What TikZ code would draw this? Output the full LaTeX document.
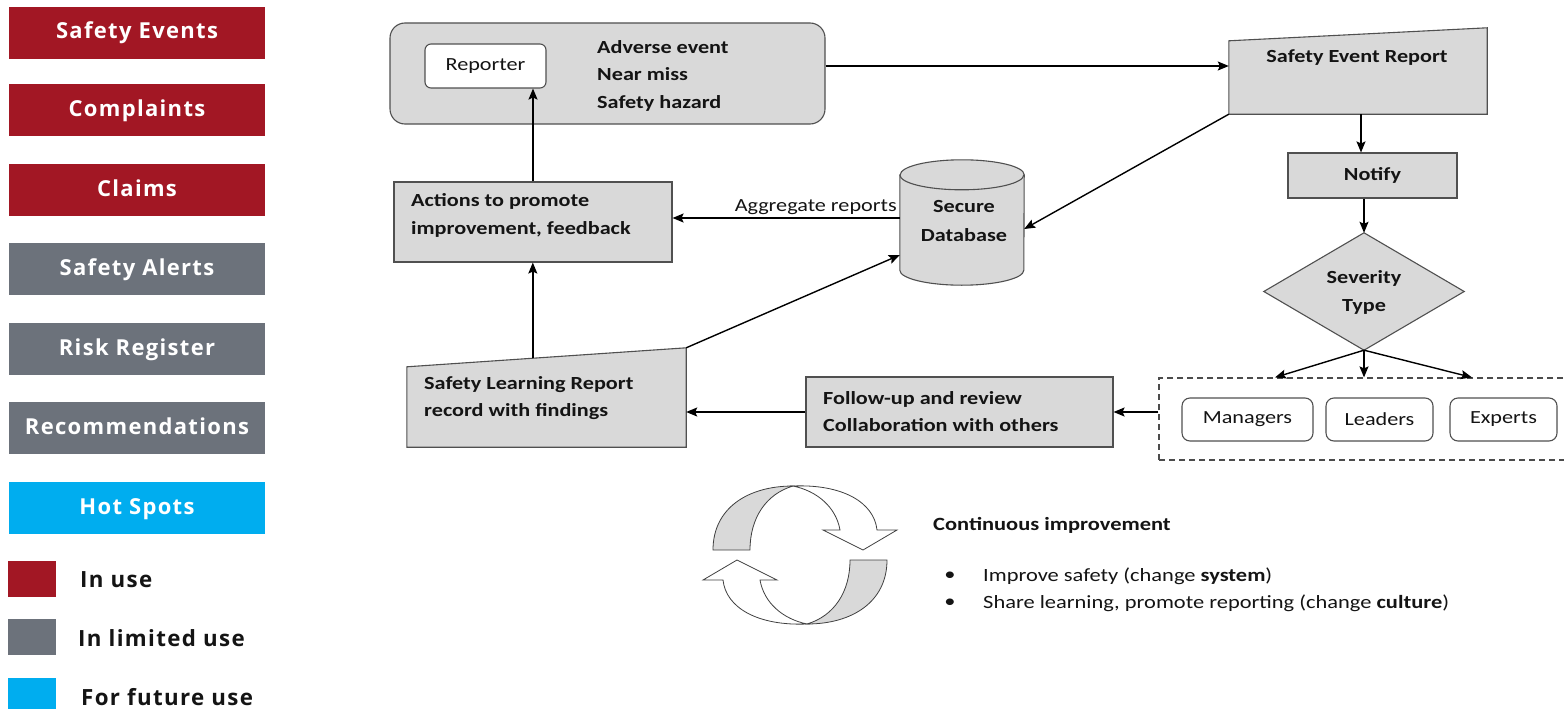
\documentclass[tikz,border=0pt]{standalone}
\usepackage{fontspec}
\setmainfont{Carlito}[FakeStretch=1.2]
\newfontfamily\legendfont{Open Sans}[LetterSpace=6]
\usetikzlibrary{arrows.meta,calc}
\definecolor{useRed}{HTML}{A21724}
\definecolor{limGray}{HTML}{6C727B}
\definecolor{futCyan}{HTML}{00ADEF}
\definecolor{boxFill}{HTML}{D9D9D9}
\definecolor{boxLine}{HTML}{505050}
\definecolor{ink}{HTML}{141414}

\tikzset{
  legbox/.style={minimum width=256, minimum height=52, inner sep=0, text=white,
    text height=1.2em, text depth=0em,
    font=\legendfont\bfseries\fontsize{22}{26}\selectfont},
  keysq/.style={minimum width=48, minimum height=36, inner sep=0},
  keytext/.style={anchor=west, inner sep=0, text=ink,
    font=\legendfont\bfseries\fontsize{22.3}{26}\selectfont},
  panel/.style={draw=boxLine, fill=boxFill, line width=1.1pt},
  lbl/.style={inner sep=0, align=left, text=ink,
    font=\bfseries\fontsize{18.5}{27.5}\selectfont},
  plain/.style={inner sep=0, text=ink, font=\fontsize{18.7}{22}\selectfont},
  person/.style={draw=boxLine, fill=white, rounded corners=8pt, line width=1.1pt,
    minimum height=43, inner sep=0, text=ink, font=\fontsize{18.5}{22}\selectfont},
  arr/.style={-{Stealth[length=11pt,width=9pt,inset=2pt]}, line width=1.4pt, draw=black},
  cyc/.style={draw=black!75, line width=0.8pt},
}

\begin{document}
\begin{tikzpicture}[x=1pt,y=-1pt]
\useasboundingbox (0,0) rectangle (1564,709);

% legend: data sources
\node[legbox, fill=useRed]  (src1) at (137,33)  {Safety Events};
\node[legbox, fill=useRed]  (src2) at (137,110) {Complaints};
\node[legbox, fill=useRed]  (src3) at (137,190) {Claims};
\node[legbox, fill=limGray] (src4) at (137,269) {Safety Alerts};
\node[legbox, fill=limGray] (src5) at (137,349) {Risk Register};
\node[legbox, fill=limGray] (src6) at (137,428) {Recommendations};
\node[legbox, fill=futCyan] (src7) at (137,508) {Hot Spots};

% legend: key
\node[keysq, fill=useRed]  (key1) at (32,579) {};
\node[keysq, fill=limGray] (key2) at (32,637) {};
\node[keysq, fill=futCyan] (key3) at (32,696) {};
\node[keytext] (keyt1) at (80,580) {In use};
\node[keytext] (keyt2) at (78,638) {In limited use};
\node[keytext] (keyt3) at (81,697) {For future use};

% event capture
\node[panel, rounded corners=15pt, minimum width=435, minimum height=101] (evt) at (607.5,73.5) {};
\node[draw=boxLine, fill=white, rounded corners=6pt, line width=1.1pt,
      minimum width=121, minimum height=44, inner sep=0, text=ink,
      font=\fontsize{18.5}{22}\selectfont] (rep) at (485.5,66) {Reporter};
\node[lbl, anchor=west] (kinds) at (597,75.5) {Adverse event\\Near miss\\Safety hazard};

% safety event report
\node[minimum width=258, minimum height=86, inner sep=0] (ser) at (1358,71) {};
\draw[panel] (ser.south west) -- ([yshift=-13pt]ser.north west) -- (ser.north east) -- (ser.south east) -- cycle;
\node[lbl] (sertxt) at (1357,58) {Safety Event Report};

% notify
\node[panel, minimum width=169, minimum height=45, lbl] (ntf) at (1372.5,175.5) {Notify};

% severity decision
\node[minimum width=200, minimum height=117, inner sep=0] (sev) at (1364,291.5) {};
\draw[panel] (sev.north) -- (sev.east) -- (sev.south) -- (sev.west) -- cycle;
\node[lbl, align=center, font=\bfseries\fontsize{18.5}{28}\selectfont] (sevtxt) at (1364,292) {Severity\\Type};

% people involved
\node[draw=black!70, dashed, dash pattern=on 6pt off 4pt, line width=1.2pt,
      minimum width=411, minimum height=82, inner sep=0] (grp) at (1364.5,419) {};
\node[person, minimum width=131] (mgr) at (1247.5,419.5) {Managers};
\node[person, minimum width=107] (ldr) at (1379.5,419.5) {Leaders};
\node[person, minimum width=107] (exp) at (1503.5,419.5) {Experts};

% follow-up
\node[panel, minimum width=307, minimum height=70] (fol) at (959.5,412) {};
\node[lbl, anchor=west] (foltxt) at (823,411.5) {Follow-up and review\\Collaboration with others};

% safety learning report
\node[minimum width=279, minimum height=99, inner sep=0] (slr) at (546.5,397.5) {};
\coordinate (slrTL) at ([yshift=-19pt]slr.north west);
\draw[panel] (slr.south west) -- (slrTL) -- (slr.north east) -- (slr.south east) -- cycle;
\node[lbl, anchor=west] (slrtxt) at (424,398) {Safety Learning Report\\record with findings};

% actions
\node[panel, minimum width=278, minimum height=80] (act) at (533,222) {};
\node[lbl, anchor=west] (acttxt) at (411,215.5) {Actions to promote\\improvement, feedback};

% secure database
\node[minimum width=124, minimum height=125, inner sep=0] (db) at (962,222.5) {};
\draw[panel] ([yshift=-15pt]db.north west) -- ([yshift=15pt]db.south west)
  arc[start angle=180, end angle=360, x radius=62pt, y radius=15pt]
  -- ([yshift=-15pt]db.north east)
  arc[start angle=0, end angle=180, x radius=62pt, y radius=15pt] -- cycle;
\draw[draw=boxLine, line width=1.1pt] ([yshift=-15pt]db.north west)
  arc[start angle=180, end angle=360, x radius=62pt, y radius=15pt];
\node[lbl, align=center, font=\bfseries\fontsize{18.5}{29}\selectfont] (dbtxt) at (964,221.5) {Secure\\Database};

% connectors
\draw[arr] ([yshift=7.5pt]evt.east) -- ([yshift=7.5pt]evt.east -| ser.west);
\draw[arr] ([xshift=3pt]ser.south) -- ([xshift=3pt]ser.south |- ntf.north);
\draw[arr] (sev.north |- ntf.south) -- (sev.north);
\draw[arr] (sev.south) -- ([xshift=-89.5pt]grp.north);
\draw[arr] (sev.south) -- (sev.south |- grp.north);
\draw[arr] (sev.south) -- ([xshift=107.5pt]grp.north);
\draw[arr] (grp.west |- fol.east) -- (fol.east);
\draw[arr] (fol.west) -- (fol.west -| slr.east);
\coordinate (slrTop) at ($(slrTL)!0.451!(slr.north east)$);
\draw[arr] (slrTop) -- (slrTop |- act.south);
\draw[arr] (slr.north east) -- ([yshift=-32.5pt]db.west);
\draw[arr] ([yshift=4.5pt]db.west) -- ([yshift=4.5pt]db.west -| act.east)
  node[pos=0.37, above=3pt, plain, font=\fontsize{18.5}{22}\selectfont] (aggr) {Aggregate reports};
\draw[arr] (act.north) -- (act.north |- rep.south);
\draw[arr] (ser.south west) -- ([yshift=-6.5pt]db.east);

% continuous improvement cycle
\begin{scope}
  \filldraw[cyc, fill=boxFill] (713,550) .. controls (713,508) and (748,486) .. (793,486)
    .. controls (766,494) and (750,518) .. (750,550) -- cycle;
  \filldraw[cyc, fill=white] (793,486) .. controls (842,484) and (874,502) .. (877,530)
    -- (897,530) -- (863,550) -- (823,530) -- (840,530)
    .. controls (836,507) and (817,491) .. (793,486) -- cycle;
\end{scope}
\begin{scope}[rotate around={180:(800,555)}]
  \filldraw[cyc, fill=boxFill] (713,550) .. controls (713,508) and (748,486) .. (793,486)
    .. controls (766,494) and (750,518) .. (750,550) -- cycle;
  \filldraw[cyc, fill=white] (793,486) .. controls (842,484) and (874,502) .. (877,530)
    -- (897,530) -- (863,550) -- (823,530) -- (840,530)
    .. controls (836,507) and (817,491) .. (793,486) -- cycle;
\end{scope}

\node[lbl, anchor=west, font=\bfseries\fontsize{18.7}{22}\selectfont] (ci) at (933,525) {Continuous improvement};
\node[plain] (b1) at (950,576) {\textbullet};
\node[plain] (b2) at (950,603) {\textbullet};
\node[plain, anchor=west] (ci1) at (983,576) {Improve safety (change \textbf{system})};
\node[plain, anchor=west] (ci2) at (983,603) {Share learning, promote reporting (change \textbf{culture})};
\end{tikzpicture}
\end{document}
